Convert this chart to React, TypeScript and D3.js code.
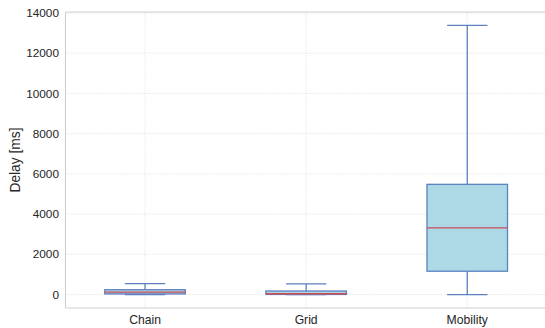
import React from "react";
import * as d3 from "d3";

const categories = ["Chain", "Grid", "Mobility"];
const whiskerLow = [0, 0, 0];
const q1 = [30, 5, 1160];
const median = [125, 40, 3320];
const q3 = [240, 175, 5480];
const whiskerHigh = [540, 530, 13380];
const yTicks = [0, 2000, 4000, 6000, 8000, 10000, 12000, 14000];

const W = 545;
const H = 328;
const left = 65.5;
const top = 12;
const bottom = 308;

const edge = "#5d80c0";
const fill = "#add8e6";
const medColor = "#cd4d55";
const gridColor = "#e3e3e3";
const spineColor = "#cfcfcf";
const font = "'Liberation Sans', Arial, sans-serif";

export default function App() {
  const x = d3.scaleLinear().domain([0.5, 3.5]).range([left - 1, 547.8]);
  const yMax = d3.max(whiskerHigh) as number;
  const pad = (yMax - 0) * 0.05;
  const y = d3.scaleLinear().domain([-pad, yMax + pad]).range([bottom, top]);
  const step = x(2) - x(1);
  const boxW = step * 0.5;
  const capW = step * 0.25;

  return (
    <svg
      width={W}
      height={H}
      style={{ position: "absolute", left: 0, top: 0, background: "#fff" }}
      fontFamily={font}
    >
      {/* grid */}
      {yTicks.map((t) => (
        <line key={"gy" + t} x1={left} x2={W} y1={y(t)} y2={y(t)} stroke={gridColor} strokeWidth={0.8} strokeDasharray="1.5,1.2" />
      ))}
      {categories.map((c, i) => (
        <line key={"gx" + c} x1={x(i + 1)} x2={x(i + 1)} y1={top} y2={bottom} stroke={gridColor} strokeWidth={0.8} strokeDasharray="1.5,1.2" />
      ))}
      {/* spines */}
      <line x1={left} x2={left} y1={top} y2={bottom} stroke={spineColor} strokeWidth={1.1} />
      <line x1={left} x2={W} y1={bottom} y2={bottom} stroke={spineColor} strokeWidth={1.1} />
      <line x1={left} x2={W} y1={top} y2={top} stroke={spineColor} strokeWidth={1.1} />

      {/* boxes */}
      {categories.map((c, i) => {
        const cx = x(i + 1);
        return (
          <g key={c}>
            <line x1={cx} x2={cx} y1={y(q3[i])} y2={y(whiskerHigh[i])} stroke={edge} strokeWidth={1.3} />
            <line x1={cx} x2={cx} y1={y(q1[i])} y2={y(whiskerLow[i])} stroke={edge} strokeWidth={1.3} />
            <line x1={cx - capW / 2} x2={cx + capW / 2} y1={y(whiskerHigh[i])} y2={y(whiskerHigh[i])} stroke={edge} strokeWidth={1.3} />
            <line x1={cx - capW / 2} x2={cx + capW / 2} y1={y(whiskerLow[i])} y2={y(whiskerLow[i])} stroke={edge} strokeWidth={1.3} />
            <rect
              x={cx - boxW / 2}
              y={y(q3[i])}
              width={boxW}
              height={Math.max(y(q1[i]) - y(q3[i]), 0.5)}
              fill={fill}
              stroke={edge}
              strokeWidth={1.3}
            />
            <line x1={cx - boxW / 2} x2={cx + boxW / 2} y1={y(median[i])} y2={y(median[i])} stroke={medColor} strokeWidth={1.3} />
          </g>
        );
      })}

      {/* y tick labels */}
      {yTicks.map((t) => (
        <text key={"ty" + t} x={left - 6.5} y={y(t)} dy="0.35em" textAnchor="end" fontSize={11.8} fill="#262626">
          {t}
        </text>
      ))}
      {/* x tick labels */}
      {categories.map((c, i) => (
        <text key={"tx" + c} x={x(i + 1)} y={bottom + 15.5} textAnchor="middle" fontSize={12.2} fill="#262626">
          {c}
        </text>
      ))}
      <text
        transform={`translate(19.5,${(top + bottom) / 2}) rotate(-90)`}
        textAnchor="middle"
        fontSize={13.8}
        fill="#262626"
      >
        Delay [ms]
      </text>
    </svg>
  );
}
